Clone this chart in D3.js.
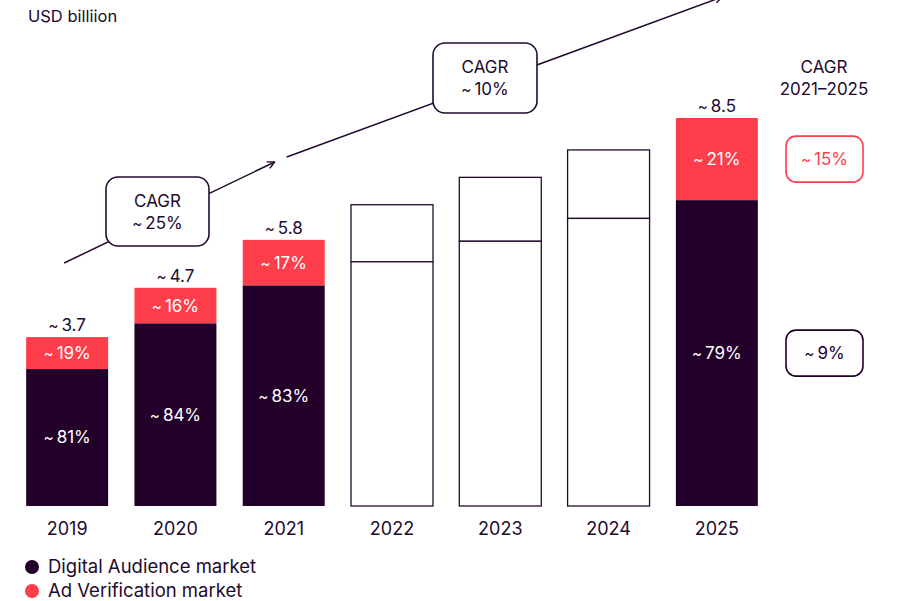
<!DOCTYPE html>
<html>
<head>
<meta charset="utf-8">
<script src="https://cdn.jsdelivr.net/npm/d3@7"></script>
<style>
  body { margin: 0; background: #fff; }
  svg text { font-family: Inter, "Open Sans", sans-serif; fill: #220a2e; }
</style>
</head>
<body>
<div id="chart-area"></div>
<script>
// Data
var years = ["2019", "2020", "2021", "2022", "2023", "2024", "2025"];
var totals = [3.7, 4.78, 5.83, 6.6, 7.2, 7.8, 8.5];
var audience = [3.0, 4.0, 4.83, 5.35, 5.8, 6.3, 6.7];
var filled = [true, true, true, false, false, false, true];
var totalLabels = ["3.7", "4.7", "5.8", "", "", "", "8.5"];
var audienceShare = ["81%", "84%", "83%", "", "", "", "79%"];
var verifShare = ["19%", "16%", "17%", "", "", "", "21%"];
var legendItems = ["Digital Audience market", "Ad Verification market"];
var cagrMid = ["25%", "10%"];
var cagrRight = ["15%", "9%"];

var dark = "#22002a", red = "#ff3d4b", ink = "#220a2e";

var width = 903, height = 601;

var svg = d3.select("#chart-area")
    .append("svg")
    .attr("width", width)
    .attr("height", height);

// "~ value" with a small tilde, like the original
var approx = function(sel, val) {
    sel.selectAll("tspan").remove();
    if (!val) return;
    sel.append("tspan").style("font-size", "0.9em").text("~");
    sel.append("tspan").attr("dx", 3).text(val);
};

// Scales
var xScale = d3.scaleBand()
    .domain(years)
    .range([13, 771])
    .paddingInner(0.243)
    .paddingOuter(0.1215);

var yScale = d3.scaleLinear()
    .domain([0, 8.5])
    .range([506, 118]);

var bw = xScale.bandwidth();

// Arrow marker
svg.append("defs").append("marker")
    .attr("id", "arrow")
    .attr("viewBox", "0 0 10 10")
    .attr("refX", 9).attr("refY", 5)
    .attr("markerWidth", 9).attr("markerHeight", 9)
    .attr("markerUnits", "userSpaceOnUse")
    .attr("orient", "auto")
    .append("path")
    .attr("d", "M1,1 L9,5 L1,9")
    .attr("fill", "none")
    .attr("stroke", ink)
    .attr("stroke-width", 1.6);

// Unit label
svg.append("text")
    .attr("x", 28).attr("y", 22)
    .style("font-size", "16.5px")
    .text("USD billiion");

// Growth lines (behind boxes)
var x19 = xScale("2019") + bw / 2, x21 = xScale("2021") + bw / 2;
svg.append("line")
    .attr("x1", x19 - 3).attr("y1", 263)
    .attr("x2", x21 - 9).attr("y2", 162)
    .attr("stroke", ink).attr("stroke-width", 1.5)
    .attr("marker-end", "url(#arrow)");
svg.append("line")
    .attr("x1", x21 + 3).attr("y1", 157)
    .attr("x2", 722).attr("y2", -3)
    .attr("stroke", ink).attr("stroke-width", 1.5)
    .attr("marker-end", "url(#arrow)");

// Bars
var bars = svg.selectAll(".bar")
    .data(years)
    .enter()
    .append("g")
    .attr("class", "bar");

bars.append("rect")
    .attr("x", function(d) { return xScale(d); })
    .attr("y", function(d, i) { return yScale(totals[i]); })
    .attr("width", bw)
    .attr("height", function(d, i) { return yScale(audience[i]) - yScale(totals[i]); })
    .attr("fill", function(d, i) { return filled[i] ? red : "#fff"; })
    .attr("stroke", function(d, i) { return filled[i] ? "none" : ink; })
    .attr("stroke-width", 1.3);

bars.append("rect")
    .attr("x", function(d) { return xScale(d); })
    .attr("y", function(d, i) { return yScale(audience[i]); })
    .attr("width", bw)
    .attr("height", function(d, i) { return yScale(0) - yScale(audience[i]); })
    .attr("fill", function(d, i) { return filled[i] ? dark : "#fff"; })
    .attr("stroke", function(d, i) { return filled[i] ? "none" : ink; })
    .attr("stroke-width", 1.3);

// Labels
bars.append("text")
    .attr("x", function(d) { return xScale(d) + bw / 2; })
    .attr("y", function(d, i) { return yScale(totals[i]) - 6; })
    .attr("text-anchor", "middle")
    .style("font-size", "17px")
    .each(function(d, i) { approx(d3.select(this), totalLabels[i]); });

bars.append("text")
    .attr("x", function(d) { return xScale(d) + bw / 2; })
    .attr("y", function(d, i) { return (yScale(totals[i]) + yScale(audience[i])) / 2; })
    .attr("dy", "0.35em")
    .attr("text-anchor", "middle")
    .style("font-size", "17px")
    .style("fill", "#fff")
    .each(function(d, i) { approx(d3.select(this), verifShare[i]); });

bars.append("text")
    .attr("x", function(d) { return xScale(d) + bw / 2; })
    .attr("y", function(d, i) { return (yScale(audience[i]) + yScale(0)) / 2; })
    .attr("dy", "0.35em")
    .attr("text-anchor", "middle")
    .style("font-size", "17px")
    .style("fill", "#fff")
    .each(function(d, i) { approx(d3.select(this), audienceShare[i]); });

// X axis
var xAxis = svg.append("g")
    .attr("transform", "translate(0," + yScale(0) + ")")
    .call(d3.axisBottom(xScale).tickSize(0).tickPadding(16));
xAxis.select(".domain").remove();
xAxis.selectAll("text")
    .style("font-size", "18px")
    .style("font-family", "Inter, sans-serif")
    .attr("fill", ink);

// CAGR boxes on the growth line
var boxes = [
    { x: 106, y: 177, w: 103, h: 69, label: cagrMid[0] },
    { x: 433, y: 43, w: 104, h: 70, label: cagrMid[1] }
];
boxes.forEach(function(b) {
    svg.append("rect")
        .attr("x", b.x).attr("y", b.y)
        .attr("width", b.w).attr("height", b.h)
        .attr("rx", 12)
        .attr("fill", "#fff")
        .attr("stroke", ink)
        .attr("stroke-width", 1.6);
    svg.append("text")
        .attr("x", b.x + b.w / 2).attr("y", b.y + 30)
        .attr("text-anchor", "middle")
        .style("font-size", "17px")
        .text("CAGR");
    approx(svg.append("text")
        .attr("x", b.x + b.w / 2).attr("y", b.y + 52)
        .attr("text-anchor", "middle")
        .style("font-size", "17px"), b.label);
});

// Right-hand CAGR column
svg.append("text")
    .attr("x", 824).attr("y", 73)
    .attr("text-anchor", "middle")
    .style("font-size", "17px")
    .text("CAGR");
svg.append("text")
    .attr("x", 824).attr("y", 95)
    .attr("text-anchor", "middle")
    .style("font-size", "17px")
    .text("2021–2025");

var rightBoxes = [
    { y: (yScale(totals[6]) + yScale(audience[6])) / 2, color: red, label: cagrRight[0] },
    { y: (yScale(audience[6]) + yScale(0)) / 2, color: dark, label: cagrRight[1] }
];
rightBoxes.forEach(function(b) {
    svg.append("rect")
        .attr("x", 786).attr("y", b.y - 23)
        .attr("width", 77).attr("height", 46)
        .attr("rx", 10)
        .attr("fill", "#fff")
        .attr("stroke", b.color)
        .attr("stroke-width", 1.6);
    approx(svg.append("text")
        .attr("x", 824.5).attr("y", b.y)
        .attr("dy", "0.35em")
        .attr("text-anchor", "middle")
        .style("font-size", "17px")
        .style("fill", b.color), b.label);
});

// Legend
var legend = svg.selectAll(".legend")
    .data(legendItems)
    .enter()
    .append("g")
    .attr("class", "legend")
    .attr("transform", function(d, i) { return "translate(32," + (567 + i * 24) + ")"; });

legend.append("circle")
    .attr("r", 7)
    .attr("fill", function(d, i) { return i === 0 ? dark : red; });

legend.append("text")
    .attr("x", 16)
    .attr("dy", "0.35em")
    .style("font-size", "18.5px")
    .text(function(d) { return d; });
</script>
</body>
</html>
